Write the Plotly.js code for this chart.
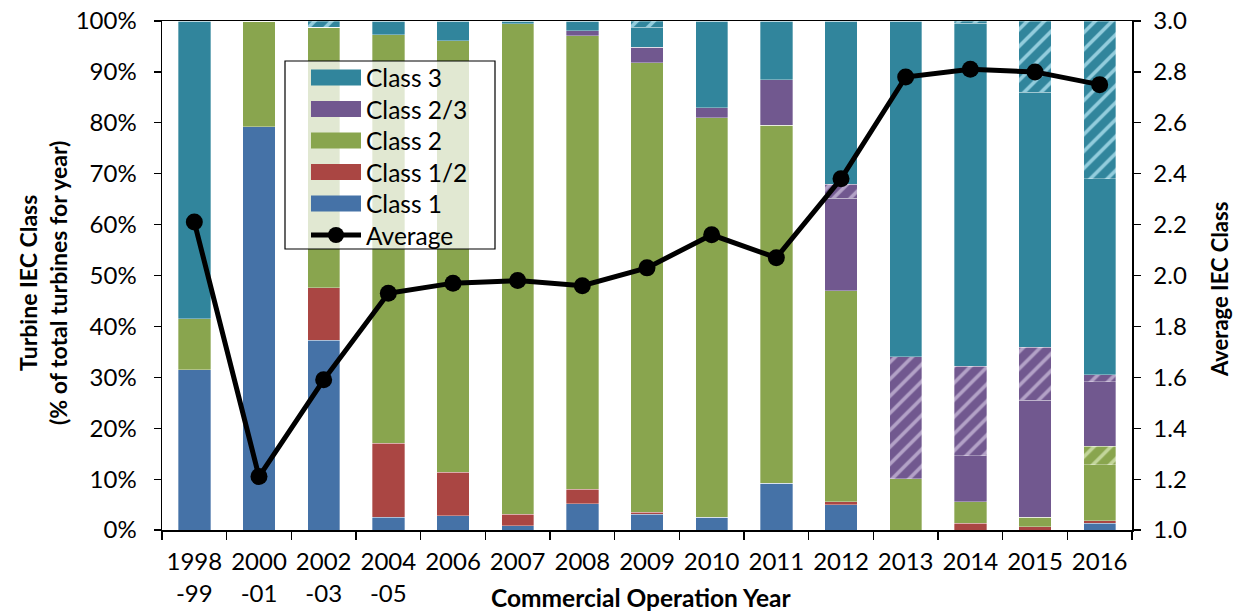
<!DOCTYPE html>
<html>
<head>
<meta charset="utf-8">
<script src="https://cdn.plot.ly/plotly-3.0.1.min.js"></script>
<style>
  html, body { margin: 0; padding: 0; background: #fff; }
  #chart { width: 1237px; height: 611px; }
</style>
</head>
<body>
<div id="chart"></div>
<script>
// Commercial operation year groups
const years = ["1998<br>-99", "2000<br>-01", "2002<br>-03", "2004<br>-05", "2006", "2007", "2008",
               "2009", "2010", "2011", "2012", "2013", "2014", "2015", "2016"];

// Share of turbines installed each year, by IEC class (% of total)
const class1       = [31.5, 79.2, 37.3,  2.5,  2.8,  0.8,  5.2,  3.1,  2.5,  9.2,  5.0,  0.0,  0.0,  0.0,  1.3];
const class12      = [ 0.0,  0.0, 10.3, 14.5,  8.5,  2.3,  2.8,  0.4,  0.0,  0.0,  0.6,  0.0,  1.3,  0.65, 0.5];
const class2       = [10.0, 20.8, 51.2, 80.3, 84.8, 96.4, 89.1, 88.3, 78.5, 70.3, 41.4, 10.1,  4.3,  1.85, 11.0];
const class2Strip  = [ 0.0,  0.0,  0.0,  0.0,  0.0,  0.0,  0.0,  0.0,  0.0,  0.0,  0.0,  0.0,  0.0,  0.0,  3.7];
const class23      = [ 0.0,  0.0,  0.0,  0.0,  0.0,  0.0,  1.0,  3.0,  2.0,  9.0, 18.2,  0.0,  9.0, 23.0, 12.6];
const class23Strip = [ 0.0,  0.0,  0.0,  0.0,  0.0,  0.0,  0.0,  0.0,  0.0,  0.0,  2.7, 23.9, 17.6, 10.4,  1.4];
const class3       = [58.5,  0.0,  0.0,  2.7,  3.9,  0.5,  1.9,  4.0, 17.0, 11.5, 32.1, 66.0, 67.4, 50.1, 38.5];
const class3Strip  = [ 0.0,  0.0,  1.2,  0.0,  0.0,  0.0,  0.0,  1.2,  0.0,  0.0,  0.0,  0.0,  0.4, 14.0, 31.0];

// Average IEC class per year (right axis)
const avgClass = [2.21, 1.21, 1.59, 1.93, 1.97, 1.98, 1.96, 2.03, 2.16, 2.07, 2.38, 2.78, 2.81, 2.80, 2.75];

const FONT = "Lato, 'Open Sans', sans-serif";
const BLUE = "#4572a7", RED = "#aa4643", GREEN = "#89a54e", PURPLE = "#71588f", TEAL = "#31859c";

// Stack order, bottom to top; striped segments share the colour of their class
const stack = [
  { name: "Class 1",   y: class1,        color: BLUE },
  { name: "Class 1/2", y: class12,       color: RED },
  { name: "Class 2",   y: class2,        color: GREEN },
  { name: "Class 2 striped",   y: class2Strip,  color: GREEN,  stripe: "#c3d69b" },
  { name: "Class 2/3", y: class23,       color: PURPLE },
  { name: "Class 2/3 striped", y: class23Strip, color: PURPLE, stripe: "#b3a2c7" },
  { name: "Class 3",   y: class3,        color: TEAL },
  { name: "Class 3 striped",   y: class3Strip,  color: TEAL,   stripe: "#93cddd" }
];

const traces = stack.map(s => {
  const marker = { color: s.color, line: { width: 0.6, color: "rgba(255,255,255,0.55)" } };
  if (s.stripe) {
    marker.pattern = { shape: "/", bgcolor: s.color, fgcolor: s.stripe, size: 12, solidity: 0.3 };
  }
  return {
    type: "bar", name: s.name, x: years, y: s.y, marker: marker,
    showlegend: false, hoverinfo: "name+y"
  };
});

traces.push({
  type: "scatter", mode: "lines+markers", name: "Average",
  x: years, y: avgClass, yaxis: "y2",
  line: { color: "#000", width: 5 },
  marker: { color: "#000", size: 17 },
  showlegend: false
});

// Plot-area geometry used to place the legend box in paper units
const L = 162, T = 21, W = 970, H = 509;
const fx = px => (px - L) / W;
const fy = py => (T + H - py) / H;

// Legend entries, top to bottom
const legendItems = [
  { name: "Class 3",   color: TEAL },
  { name: "Class 2/3", color: PURPLE },
  { name: "Class 2",   color: GREEN },
  { name: "Class 1/2", color: RED },
  { name: "Class 1",   color: BLUE },
  { name: "Average",   line: true }
];

const shapes = [{
  type: "rect", xref: "paper", yref: "paper", layer: "above",
  x0: fx(285), x1: fx(495), y0: fy(249), y1: fy(61),
  fillcolor: "rgba(255,255,255,0.75)", line: { color: "#000", width: 1.2 }
}];
const annotations = [];

legendItems.forEach((it, i) => {
  const cy = 77.5 + i * 31.5;
  if (it.line) {
    shapes.push({ type: "line", xref: "paper", yref: "paper", layer: "above",
      x0: fx(311), x1: fx(361), y0: fy(cy), y1: fy(cy), line: { color: "#000", width: 5 } });
    shapes.push({ type: "circle", xref: "paper", yref: "paper", layer: "above",
      x0: fx(336 - 8), x1: fx(336 + 8), y0: fy(cy + 8), y1: fy(cy - 8),
      fillcolor: "#000", line: { color: "#000", width: 0 } });
  } else {
    shapes.push({ type: "rect", xref: "paper", yref: "paper", layer: "above",
      x0: fx(311), x1: fx(361), y0: fy(cy + 8), y1: fy(cy - 8),
      fillcolor: it.color, line: { width: 0 } });
  }
  annotations.push({ xref: "paper", yref: "paper", x: fx(364), y: fy(cy),
    xanchor: "left", yanchor: "middle", showarrow: false, text: it.name,
    font: { family: FONT, size: 24.5, color: "#000" } });
});

// Axis titles
annotations.push({ xref: "paper", yref: "paper", x: fx(641), y: fy(597),
  xanchor: "center", yanchor: "middle", showarrow: false,
  text: "<b>Commercial Operation Year</b>", font: { family: FONT, size: 24.5, color: "#000" } });
annotations.push({ xref: "paper", yref: "paper", x: fx(43), y: fy(283), textangle: -90,
  xanchor: "center", yanchor: "middle", showarrow: false,
  text: "<b>Turbine IEC Class<br>(% of total turbines for year)</b>",
  font: { family: FONT, size: 23, color: "#000" } });
annotations.push({ xref: "paper", yref: "paper", x: fx(1219), y: fy(290), textangle: -90,
  xanchor: "center", yanchor: "middle", showarrow: false,
  text: "<b>Average IEC Class</b>", font: { family: FONT, size: 22, color: "#000" } });

const layout = {
  width: 1237, height: 611,
  margin: { l: L, r: 1237 - L - W, t: T, b: 611 - T - H, pad: 0 },
  paper_bgcolor: "#fff", plot_bgcolor: "#fff",
  barmode: "stack", bargap: 0.5,
  font: { family: FONT, size: 24, color: "#000" },
  showlegend: false,
  xaxis: {
    type: "category", range: [-0.5, 14.5], showgrid: false, zeroline: false,
    showline: true, linecolor: "#000", linewidth: 1.5, mirror: true,
    ticks: "outside", tickson: "boundaries", ticklen: 8, tickcolor: "#000", tickwidth: 1.2,
    tickangle: 0,
    tickfont: { family: FONT, size: 24, color: "#000" }, ticklabelstandoff: 10
  },
  yaxis: {
    range: [0, 100], dtick: 10, ticksuffix: "%", showgrid: false, zeroline: false,
    showline: true, linecolor: "#000", linewidth: 1.5,
    ticks: "outside", ticklen: 7, tickcolor: "#000", tickwidth: 1.2,
    tickfont: { family: FONT, size: 24, color: "#000" }, ticklabelstandoff: 12
  },
  yaxis2: {
    overlaying: "y", side: "right", range: [1, 3], dtick: 0.2, tickformat: ".1f",
    showgrid: false, zeroline: false, showline: true, linecolor: "#000", linewidth: 1.5,
    ticks: "outside", ticklen: 7, tickcolor: "#000", tickwidth: 1.2,
    tickfont: { family: FONT, size: 24, color: "#000" }, ticklabelstandoff: 8
  },
  shapes: shapes,
  annotations: annotations
};

Plotly.newPlot("chart", traces, layout, { displayModeBar: false, staticPlot: true });
</script>
</body>
</html>
